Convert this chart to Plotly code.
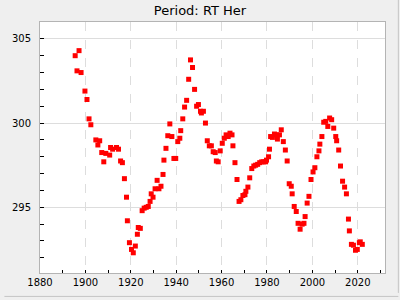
import plotly.graph_objects as go

years = [1895.5, 1896.3, 1897.2, 1898.1, 1899.8, 1900.7, 1901.6, 1902.4, 1904.6, 1905.5,
         1906.3, 1907.2, 1908.1, 1909.0, 1910.7, 1911.1, 1912.0, 1913.7, 1914.6, 1915.5,
         1916.3, 1917.2, 1918.1, 1918.5, 1919.4, 1920.3, 1921.1, 1922.0, 1922.9, 1923.3,
         1924.2, 1925.0, 1925.9, 1926.8, 1927.7, 1928.5, 1929.0, 1929.8, 1930.7, 1931.6,
         1932.4, 1933.3, 1934.2, 1934.6, 1935.5, 1936.3, 1937.2, 1938.1, 1939.0, 1939.8,
         1940.7, 1941.6, 1942.0, 1942.9, 1943.7, 1944.6, 1945.5, 1946.3, 1947.2, 1948.1,
         1949.0, 1949.8, 1950.7, 1951.1, 1952.0, 1952.9, 1953.7, 1954.6, 1955.5, 1956.3,
         1957.2, 1957.7, 1958.5, 1959.4, 1960.3, 1961.2, 1962.0, 1962.9, 1963.7, 1964.6,
         1965.0, 1965.9, 1966.8, 1967.7, 1968.5, 1969.4, 1970.3, 1970.7, 1971.6, 1972.4,
         1973.3, 1974.2, 1975.0, 1975.9, 1976.8, 1977.7, 1978.5, 1979.4, 1979.8, 1980.7,
         1981.1, 1981.6, 1982.4, 1983.3, 1984.2, 1984.6, 1985.5, 1986.3, 1987.2, 1988.1,
         1988.9, 1989.8, 1990.7, 1991.1, 1992.0, 1992.9, 1993.7, 1994.6, 1995.5, 1996.3,
         1996.8, 1997.7, 1998.5, 1999.4, 2000.3, 2001.1, 2002.0, 2002.9, 2003.3, 2004.2,
         2005.0, 2005.9, 2006.8, 2007.6, 2008.5, 2009.4, 2010.3, 2010.7, 2011.6, 2012.4,
         2013.3, 2014.2, 2015.0, 2015.9, 2016.3, 2017.2, 2018.1, 2019.0, 2019.8, 2020.7,
         2021.1, 2022.0]

periods = [304.0, 303.1, 304.3, 303.0, 301.9, 301.4, 300.25, 299.9, 299.0, 298.7,
           298.95, 298.25, 297.7, 298.2, 298.1, 298.55, 298.45, 298.55, 298.45, 297.75,
           297.65, 296.7, 295.6, 294.2, 292.9, 292.5, 292.3, 292.7, 293.4, 293.8,
           293.75, 294.8, 294.95, 295.0, 295.05, 295.35, 295.8, 295.6, 296.1, 296.6,
           296.1, 296.25, 296.95, 297.8, 298.5, 299.25, 299.95, 299.2, 297.9, 297.9,
           298.9, 299.1, 299.55, 300.25, 300.95, 301.35, 302.6, 303.75, 303.3, 302.0,
           301.0, 301.1, 300.7, 300.6, 300.7, 300.0, 298.95, 298.65, 298.65, 298.3,
           298.25, 297.75, 297.7, 298.35, 298.8, 299.1, 299.3, 299.2, 299.4, 299.3,
           298.65, 297.65, 296.65, 295.35, 295.45, 295.7, 295.75, 295.95, 296.2, 296.75,
           297.3, 297.45, 297.5, 297.55, 297.65, 297.7, 297.7, 297.7, 297.8, 298.0,
           298.45, 299.2, 299.15, 299.35, 299.3, 299.05, 299.3, 299.6, 298.9, 298.4,
           297.75, 296.4, 296.25, 295.8, 295.05, 294.75, 294.05, 293.7, 294.0, 294.05,
           294.45, 295.25, 295.65, 296.65, 297.1, 297.35, 298.0, 298.35, 298.75, 299.2,
           300.05, 300.1, 299.8, 300.3, 300.2, 299.7, 299.2, 298.95, 298.4, 297.45,
           296.55, 296.2, 295.8, 294.3, 293.6, 292.8, 292.75, 292.45, 292.5, 292.9,
           292.95, 292.8]

title_text = "Period: RT Her"
x_ticks = [1880, 1900, 1920, 1940, 1960, 1980, 2000, 2020]
y_ticks = [295, 300, 305]

fig = go.Figure()
fig.add_trace(go.Scatter(
    x=years, y=periods, mode="markers",
    marker=dict(symbol="square", size=5, color="#ff0000", line=dict(width=0)),
    showlegend=False, hoverinfo="skip",
))

font = dict(family="DejaVu Sans", size=10, color="#000000")

fig.update_layout(
    width=400, height=300, autosize=False,
    margin=dict(l=36, r=15, t=22, b=26),
    paper_bgcolor="#efefef", plot_bgcolor="#ffffff",
    title=dict(text=title_text, x=0.5, xanchor="center", y=1 - 10.5 / 300, yanchor="middle",
               font=dict(family="DejaVu Sans", size=13, color="#000000")),
    font=font,
    xaxis=dict(
        range=[1880, 2032], tickvals=x_ticks, ticktext=[str(v) for v in x_ticks],
        ticks="inside", ticklen=3, tickcolor="#000000", tickwidth=1,
        showgrid=True, gridcolor="#dddddd", griddash="dash", gridwidth=1,
        showline=True, mirror=True, linecolor="#b4b4b4", linewidth=1,
        zeroline=False, tickfont=font,
        minor=dict(dtick=10, tick0=1880, ticks="inside", ticklen=3, tickcolor="#000000", showgrid=False),
    ),
    yaxis=dict(
        range=[291.1, 306.0], tickvals=y_ticks, ticktext=[str(v) for v in y_ticks],
        ticks="inside", ticklen=4, tickcolor="#000000", tickwidth=1,
        showgrid=True, gridcolor="#dddddd", gridwidth=1,
        showline=True, mirror=True, linecolor="#b4b4b4", linewidth=1,
        zeroline=False, tickfont=font, ticklabelstandoff=6,
        minor=dict(dtick=1, tick0=291, ticks="inside", ticklen=4, tickcolor="#000000", showgrid=False),
    ),
    shapes=[
        dict(type="line", xref="paper", yref="paper",
             x0=(398.5 - 36) / 349, x1=(398.5 - 36) / 349,
             y0=(278 - 0.5) / 252, y1=(278 - 298) / 252,
             line=dict(color="#c4c4c4", width=1)),
        dict(type="line", xref="paper", yref="paper",
             x0=-36 / 349, x1=(398.5 - 36) / 349,
             y0=(274 - 297.5) / 252, y1=(274 - 297.5) / 252,
             line=dict(color="#c4c4c4", width=1)),
    ],
)

fig.write_html("out.html")
